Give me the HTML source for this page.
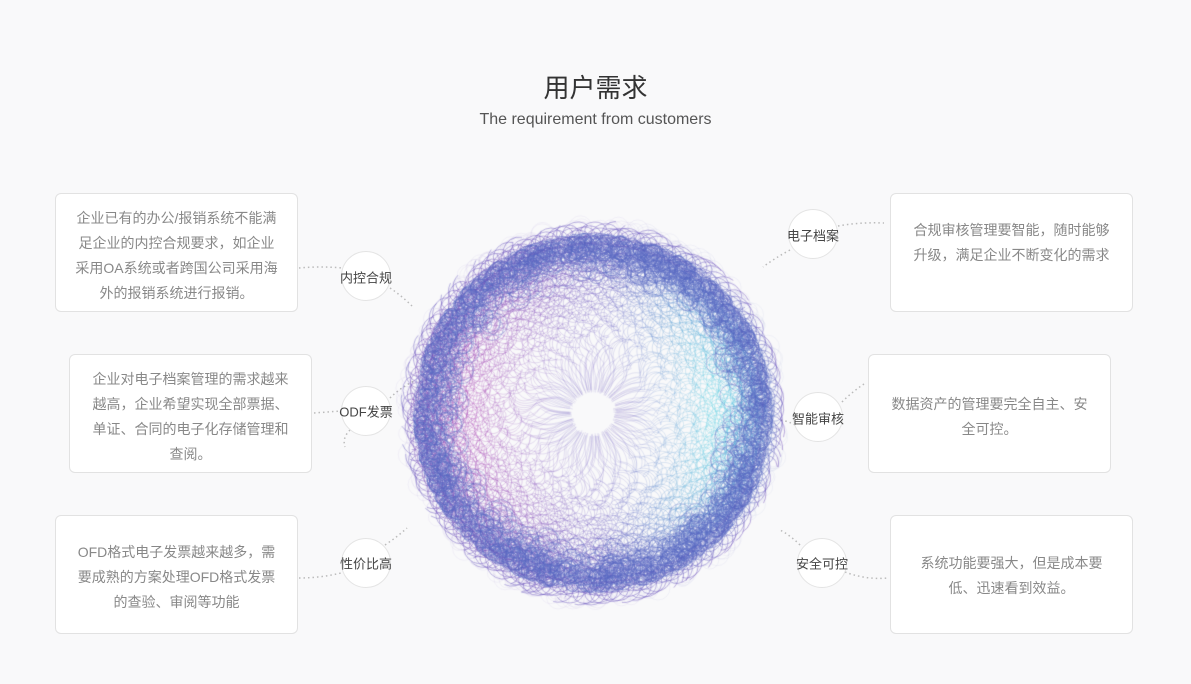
<!DOCTYPE html>
<html><head><meta charset="utf-8"><style>
body{margin:0;width:1191px;height:684px;background:#f9f9fa;position:relative;overflow:hidden;font-family:"Liberation Sans","Noto Sans CJK SC",sans-serif;}
.t{position:absolute;left:0;width:1191px;text-align:center;}
.box{position:absolute;width:243px;height:119px;background:#fff;border:1px solid #e2e2e2;border-radius:6px;box-sizing:border-box;padding:12px 6px;color:#888;font-size:14px;line-height:25px;text-align:center;white-space:nowrap;}
.c{position:absolute;width:50px;height:50px;border-radius:50%;background:#fff;border:1px solid #e4e4e4;box-sizing:border-box;}
.lb{position:absolute;font-size:13px;color:#444;white-space:nowrap;transform:translate(-50%,-50%);}
</style></head><body>
<div class="t" style="top:68px;font-size:26px;color:#333;">用户需求</div>
<div class="t" style="top:111px;font-size:16px;color:#555;">The requirement from customers</div>

<svg width="1191" height="684" style="position:absolute;left:0;top:0">
<g stroke="#bbb" stroke-width="1.5" stroke-dasharray="1.5 3" fill="none">
<path d="M299 268 Q320 266 343 268"/><path d="M390 288 Q402 296 412 306"/>
<path d="M314 413 L341 411"/><path d="M350 430 Q342 438 345 447"/><path d="M390 398 Q400 388 414 381"/>
<path d="M299 578 Q322 578 345 572"/><path d="M385 545 Q397 537 407 528"/>
<path d="M838 226 Q860 222 884 223"/><path d="M790 250 Q775 258 763 267"/>
<path d="M842 402 Q852 392 864 384"/><path d="M795 425 Q786 420 778 420"/>
<path d="M845 572 Q866 580 888 578"/><path d="M800 545 Q790 535 780 530"/>
</g></svg>

<canvas id="cv" width="400" height="410" style="position:absolute;left:394px;top:209px"></canvas>

<div class="box" style="left:55px;top:193px">企业已有的办公/报销系统不能满<br>足企业的内控合规要求，如企业<br>采用OA系统或者跨国公司采用海<br>外的报销系统进行报销。</div>
<div class="box" style="left:69px;top:354px">企业对电子档案管理的需求越来<br>越高，企业希望实现全部票据、<br>单证、合同的电子化存储管理和<br>查阅。</div>
<div class="box" style="left:55px;top:515px;padding-top:24px">OFD格式电子发票越来越多，需<br>要成熟的方案处理OFD格式发票<br>的查验、审阅等功能</div>
<div class="box" style="left:890px;top:193px;padding-top:24px">合规审核管理要智能，随时能够<br>升级，满足企业不断变化的需求</div>
<div class="box" style="left:868px;top:354px;padding-top:37px">数据资产的管理要完全自主、安<br>全可控。</div>
<div class="box" style="left:890px;top:515px;padding-top:35px">系统功能要强大，但是成本要<br>低、迅速看到效益。</div>

<div class="c" style="left:341px;top:251px"></div><div class="lb" style="left:366px;top:277px">内控合规</div>
<div class="c" style="left:341px;top:386px"></div><div class="lb" style="left:366px;top:411px">ODF发票</div>
<div class="c" style="left:341px;top:538px"></div><div class="lb" style="left:366px;top:563px">性价比高</div>
<div class="c" style="left:788px;top:209px"></div><div class="lb" style="left:813px;top:235px">电子档案</div>
<div class="c" style="left:793px;top:392px"></div><div class="lb" style="left:818px;top:418px">智能审核</div>
<div class="c" style="left:797px;top:538px"></div><div class="lb" style="left:822px;top:563px">安全可控</div>

<script>
var c=document.getElementById('cv').getContext('2d');var cx=199,cy=204,R=182;
function mix(p,q,t){return [p[0]+(q[0]-p[0])*t,p[1]+(q[1]-p[1])*t,p[2]+(q[2]-p[2])*t];}
function col(a,r,al){var x=Math.cos(a);var B=[95,72,185],M=[165,45,170],C=[60,210,225];var f=r/R;var w=Math.pow(Math.abs(x),1.3)*Math.min(1,Math.max(0,(f-0.2)*2.2))*(1-0.8*Math.pow(f,6));var k=mix(B,x<0?M:C,w);return 'rgba('+(k[0]|0)+','+(k[1]|0)+','+(k[2]|0)+','+al+')';}
var seed=7;function rnd(){seed=(seed*16807)%2147483647;return seed/2147483647;}
c.lineWidth=0.7;
for(var i=0;i<200;i++){var a=i/200*Math.PI*2;var p0=rnd()*6.28;var nl=7+rnd()*5;
var px=null,py=null;
for(var t=0;t<=1.0001;t+=0.003){var r=22+t*(R-22);var ph=p0+t*Math.PI*2*nl*t;var amp=2+12*t;
var aa=a+Math.sin(ph)*amp/r;var rr=r+Math.cos(ph)*amp*0.8;
var x=cx+Math.cos(aa)*rr,y=cy+Math.sin(aa)*rr;
if(px!==null){c.strokeStyle=col(a,rr,0.2+0.4*t*t);c.beginPath();c.moveTo(px,py);c.lineTo(x,y);c.stroke();}
px=x;py=y;}}
c.lineWidth=0.6;
for(var i=0;i<2200;i++){var a=rnd()*Math.PI*2;var top=Math.abs(Math.sin(a));var rr=R-2-rnd()*rnd()*40,lr=3+rnd()*9;c.strokeStyle=col(a,rr,0.07+0.09*top);c.beginPath();
c.arc(cx+Math.cos(a)*(rr-lr),cy+Math.sin(a)*(rr-lr),lr,0,Math.PI*2);c.stroke();}
for(var i=0;i<300;i++){var a=rnd()*Math.PI*2;c.strokeStyle=col(a,R,0.1);c.beginPath();var rr=R-2+rnd()*8,lr=4+rnd()*8;c.arc(cx+Math.cos(a)*rr,cy+Math.sin(a)*rr,lr,0,Math.PI*2);c.stroke();}
c.lineWidth=2;for(var i=0;i<2;i++){c.strokeStyle='rgba(85,65,175,0.15)';c.beginPath();c.arc(cx,cy,R-6-i*6,0,Math.PI*2);c.stroke();}
</script>
</body></html>
